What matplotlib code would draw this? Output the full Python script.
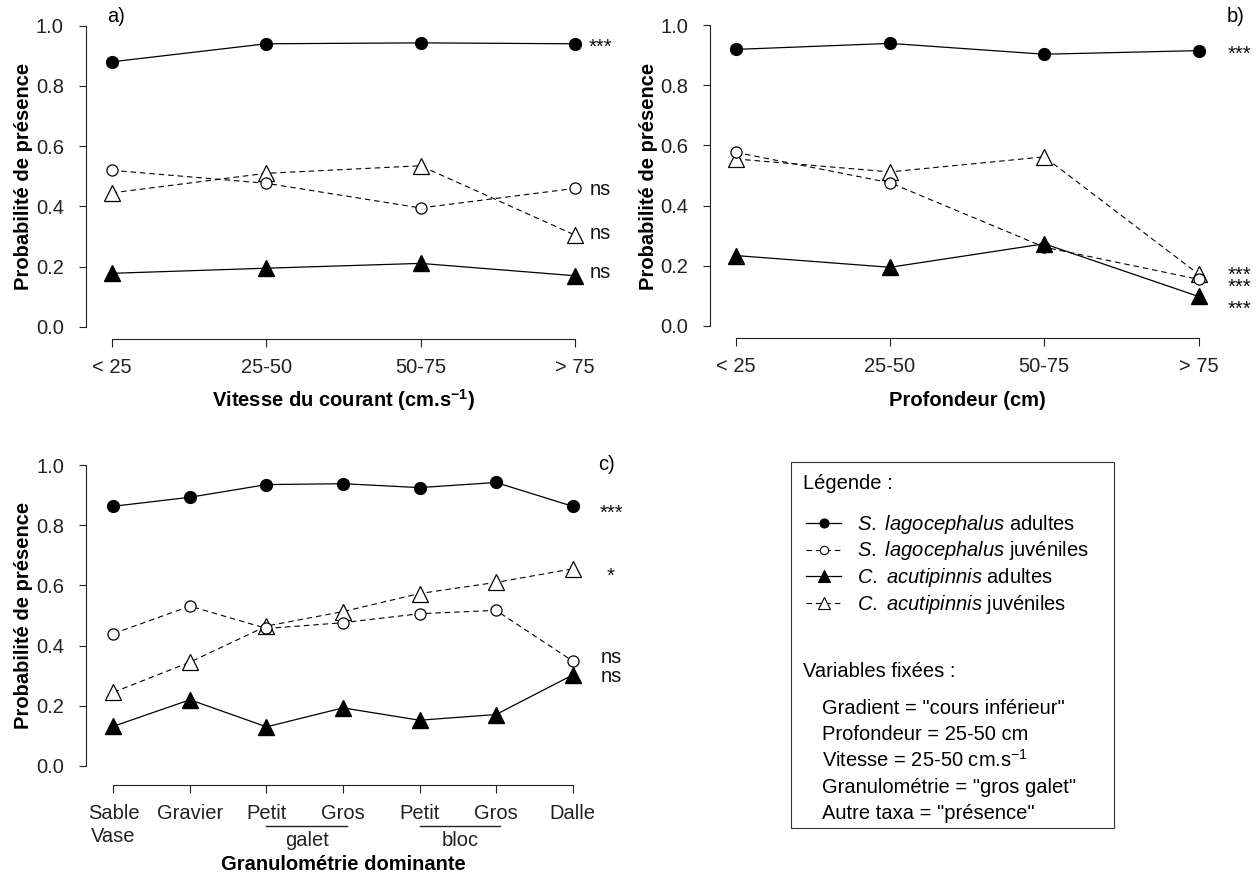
import matplotlib
matplotlib.use("Agg")
import matplotlib.pyplot as plt
import matplotlib.transforms as mtransforms
from matplotlib.lines import Line2D
from matplotlib.patches import Rectangle

plt.rcParams['font.family'] = ['Liberation Sans', 'DejaVu Sans']
plt.rcParams['mathtext.fontset'] = 'custom'
plt.rcParams['mathtext.rm'] = 'Liberation Sans'
plt.rcParams['mathtext.it'] = 'Liberation Sans:italic'
plt.rcParams['mathtext.bf'] = 'Liberation Sans:bold'

# ---------------- data ----------------
cat_ab = ["< 25", "25-50", "50-75", "> 75"]

a_sl_ad = [0.880, 0.940, 0.943, 0.940]
a_sl_juv = [0.520, 0.477, 0.395, 0.460]
a_ca_ad = [0.178, 0.195, 0.211, 0.170]
a_ca_juv = [0.445, 0.510, 0.535, 0.305]
a_sig = ["***", "ns", "ns", "ns"]
a_sig_y = [0.947, 0.455, 0.310, 0.180]

b_sl_ad = [0.919, 0.939, 0.903, 0.915]
b_sl_juv = [0.577, 0.476, 0.262, 0.155]
b_ca_ad = [0.234, 0.195, 0.273, 0.098]
b_ca_juv = [0.555, 0.512, 0.562, 0.172]
b_sig = ["***", "***", "***", "***"]
b_sig_y = [0.924, 0.186, 0.147, 0.076]

cat_c = ["Sable", "Gravier", "Petit", "Gros", "Petit", "Gros", "Dalle"]
cat_c2 = ["Vase", "", "", "", "", "", ""]
groups_c = ["galet", "bloc"]
c_sl_ad = [0.863, 0.893, 0.935, 0.938, 0.925, 0.942, 0.863]
c_sl_juv = [0.440, 0.531, 0.457, 0.476, 0.506, 0.517, 0.349]
c_ca_ad = [0.132, 0.220, 0.130, 0.193, 0.152, 0.171, 0.302]
c_ca_juv = [0.245, 0.345, 0.465, 0.513, 0.573, 0.610, 0.655]
c_sig = ["***", "*", "ns", "ns"]
c_sig_y = [0.861, 0.651, 0.359, 0.297]

yticks = [0.0, 0.2, 0.4, 0.6, 0.8, 1.0]

# ---------------- layout helpers ----------------
W, H = 1258, 874
fig = plt.figure(figsize=(W / 100, H / 100), dpi=100)
FS = 14.5
FS_PX = FS * 100 / 72


def rect(l, r, t, b):
    return [l / W, 1 - b / H, (r - l) / W, (b - t) / H]


def ftext(x, y, s, **kw):
    return fig.text(x / W, 1 - y / H, s, **kw)


DASH = (0, (5, 3.5))


def draw_panel(ax, cats, sl_ad, sl_juv, ca_ad, ca_juv, xlim):
    x = list(range(1, len(cats) + 1))
    ax.plot(x, sl_ad, color='k', lw=0.9, marker='o', ms=8.5, mfc='k', mec='k', zorder=4)
    ax.plot(x, ca_juv, color='k', lw=0.8, ls=DASH, marker='^', ms=11, mfc='white', mec='k', mew=0.9, zorder=3)
    ax.plot(x, sl_juv, color='k', lw=0.8, ls=DASH, marker='o', ms=8, mfc='white', mec='k', mew=0.9, zorder=3)
    ax.plot(x, ca_ad, color='k', lw=0.9, marker='^', ms=11, mfc='k', mec='k', zorder=4)
    ax.set_xlim(*xlim)
    ax.set_ylim(-0.04, 1.04)
    ax.set_yticks(yticks)
    ax.set_yticklabels([f"{v:.1f}" for v in yticks])
    ax.set_xticks(x)
    ax.set_xticklabels(cats)
    for s in ['top', 'right']:
        ax.spines[s].set_visible(False)
    ax.spines['left'].set_bounds(0, 1)
    ax.spines['bottom'].set_bounds(1, len(cats))
    for s in ['left', 'bottom']:
        ax.spines[s].set_linewidth(0.8)
        ax.spines[s].set_color('#222222')
    ax.tick_params(axis='y', direction='out', length=5, width=0.8, labelsize=FS, pad=11, colors='#222222')
    ax.tick_params(axis='x', direction='out', length=6, width=0.8, labelsize=FS, pad=8, colors='#222222')
    ax.patch.set_alpha(0)


def sig_labels(ax, xpos, labels, ys):
    # group labels that sit very close together into one multi-line text
    ppu = ax.get_position().height * H / 1.08  # pixels per data unit
    groups = []
    for s, y in zip(labels, ys):
        if groups and groups[-1][-1][1] - y < 0.05:
            groups[-1].append((s, y))
        else:
            groups.append([(s, y)])
    for g in groups:
        s0, _ = g[0]
        off = 8.3 if '*' in s0 else 3.8
        txt = "\n".join(s for s, _ in g)
        ls = 1.0
        if len(g) > 1:
            gap_px = (g[0][1] - g[1][1]) * ppu
            ls = gap_px / (1.0 * FS_PX)
        ax.annotate(txt, xy=(xpos, g[-1][1]), xytext=(0, -off), textcoords='offset points',
                    ha='center', va='baseline', fontsize=FS, annotation_clip=False,
                    color='#111111', linespacing=ls, multialignment='center')


# ---------------- panel a ----------------
ax_a = fig.add_axes(rect(86.0, 600.6, 13.65, 339.0))
draw_panel(ax_a, cat_ab, a_sl_ad, a_sl_juv, a_ca_ad, a_ca_juv, (0.834, 4.166))
sig_labels(ax_a, 4.167, a_sig, a_sig_y)
ftext(107, 17, "a)", ha='left', va='center', fontsize=FS)
ftext(24, 176, "Probabilité de présence", rotation=90, ha='center', va='center', fontsize=FS, fontweight='bold')
ftext(343.5, 400, r"Vitesse du courant (cm.s$^{\mathbf{-1}}$)", ha='center', va='center', fontsize=FS, fontweight='bold')

# ---------------- panel b ----------------
ax_b = fig.add_axes(rect(710.1, 1224.2, 13.0, 338.0))
draw_panel(ax_b, cat_ab, b_sl_ad, b_sl_juv, b_ca_ad, b_ca_juv, (0.834, 4.166))
sig_labels(ax_b, 4.262, b_sig, b_sig_y)
ftext(1227, 17, "b)", ha='left', va='center', fontsize=FS)
ftext(649, 176, "Probabilité de présence", rotation=90, ha='center', va='center', fontsize=FS, fontweight='bold')
ftext(967, 400, "Profondeur (cm)", ha='center', va='center', fontsize=FS, fontweight='bold')

# ---------------- panel c ----------------
ax_c = fig.add_axes(rect(86.4, 599.6, 453.0, 778.0))
draw_panel(ax_c, cat_c, c_sl_ad, c_sl_juv, c_ca_ad, c_ca_juv, (0.646, 7.354))
ax_c.spines['bottom'].set_position(('outward', 5))
sig_labels(ax_c, 7.503, c_sig, c_sig_y)
ftext(598, 465, "c)", ha='left', va='center', fontsize=FS)
ftext(24, 615, "Probabilité de présence", rotation=90, ha='center', va='center', fontsize=FS, fontweight='bold')
ftext(343, 864, "Granulométrie dominante", ha='center', va='center', fontsize=FS, fontweight='bold')

# second line of tick labels and group underlines (x in data coords, y in figure)
trans_c = mtransforms.blended_transform_factory(ax_c.transData, fig.transFigure)
for i, s in enumerate(cat_c2):
    if s:
        ax_c.text(i + 1, 1 - 837 / H, s, transform=trans_c, ha='center', va='center', fontsize=FS, color='#222222')
for g, (x0, x1) in zip(groups_c, [(3, 4), (5, 6)]):
    ax_c.add_line(Line2D([x0, x1 + 0.05], [1 - 826 / H, 1 - 826 / H], transform=trans_c,
                         color='#222222', lw=1.0, clip_on=False))
    ax_c.text((x0 + x1) / 2 + 0.03, 1 - 840 / H, g, transform=trans_c, ha='center', va='center',
              fontsize=FS, color='#222222')

# ---------------- legend box ----------------
fig.add_artist(Rectangle((790.7 / W, 1 - 828 / H), (1114 - 790.7) / W, (828 - 462.3) / H,
                         transform=fig.transFigure, fill=False, lw=0.8, edgecolor='#333333'))
ftext(802.7, 489, "Légende :", ha='left', va='baseline', fontsize=FS)

leg_labels = [r"$\it{S.}$ $\it{lagocephalus}$ adultes", r"$\it{S.}$ $\it{lagocephalus}$ juvéniles",
              r"$\it{C.}$ $\it{acutipinnis}$ adultes", r"$\it{C.}$ $\it{acutipinnis}$ juvéniles"]
leg_styles = [('-', 'o', 'k', 6.5), (DASH, 'o', 'white', 6.0), ('-', '^', 'k', 8.5), (DASH, '^', 'white', 8.5)]
base = [530, 556.5, 583, 609.5]
for lab, (ls, mk, fc, ms), yb in zip(leg_labels, leg_styles, base):
    ym = 1 - (yb - 7) / H
    fig.add_artist(Line2D([806 / W, 841 / W], [ym, ym], transform=fig.transFigure, color='k',
                          lw=0.9 if ls == '-' else 0.8, ls=ls))
    fig.add_artist(Line2D([823.5 / W], [ym], transform=fig.transFigure, marker=mk, ms=ms, mfc=fc,
                          mec='k', mew=0.8, ls='none'))
    ftext(856.7, yb, lab, ha='left', va='baseline', fontsize=FS)

ftext(802.7, 677, "Variables fixées :", ha='left', va='baseline', fontsize=FS)
fixed = ['Gradient = "cours inférieur"', 'Profondeur = 25-50 cm', r'Vitesse = 25-50 cm.s$^{-1}$',
         'Granulométrie = "gros galet"', 'Autre taxa = "présence"']
for i, s in enumerate(fixed):
    ftext(821.7, 714 + 26.3 * i, s, ha='left', va='baseline', fontsize=FS)

fig.savefig("out.png", dpi=100)
